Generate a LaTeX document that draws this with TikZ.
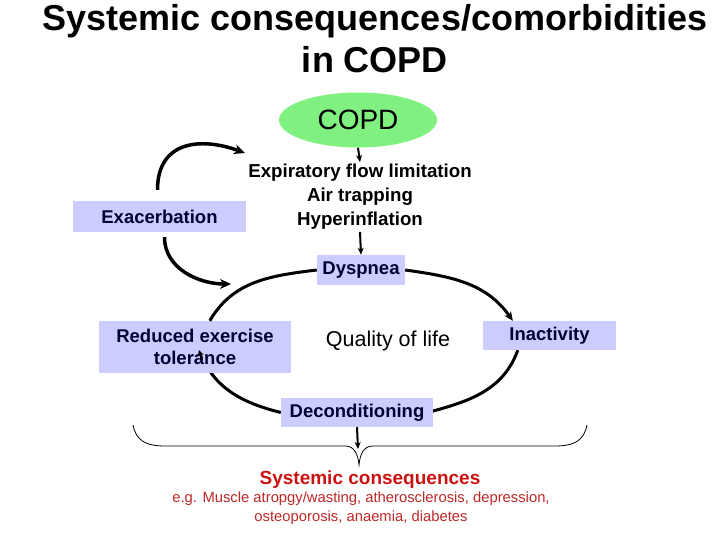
\documentclass[tikz,border=0pt]{standalone}
\usepackage{fontspec}
\setmainfont{Liberation Sans}
\usetikzlibrary{arrows.meta,calc,shapes.geometric}
\pgfdeclarelayer{bg}
\pgfsetlayers{bg,main}
\definecolor{lav}{RGB}{204,204,255}
\definecolor{copdgreen}{RGB}{128,240,128}
\definecolor{navy}{RGB}{0,0,51}
\definecolor{sysred}{RGB}{204,17,17}
\definecolor{smallred}{RGB}{190,40,40}
\begin{document}
\begin{tikzpicture}[x=1pt,y=-1pt,
  box/.style={fill=lav, text=navy, font=\bfseries\fontsize{18.5}{22}\selectfont, inner sep=0pt, align=center},
  cyc/.style={line width=3pt},
  cyctip/.style={line width=3pt,-{Stealth[length=9pt,width=8pt]}},
  smalltip/.style={line width=2pt,-{Stealth[length=6pt,width=6pt]}},
  exarr/.style={line width=3.5pt,-{Stealth[length=11pt,width=10pt]}},
  arr/.style={line width=2pt,-{Stealth[length=7pt,width=6pt]}},
  brace/.style={line width=0.8pt}
  ]
\useasboundingbox (0,0) rectangle (720,540);
% title
\node[font=\bfseries\fontsize{36}{42}\selectfont, align=center] (title) at (375,39) {Systemic consequences/comorbidities\\in COPD};
% COPD
\node[ellipse, fill=copdgreen, minimum width=158pt, minimum height=55pt, inner sep=0pt, font=\fontsize{28}{32}\selectfont] (copd) at (358,120) {COPD};
% mechanisms
\node[align=center, inner sep=2pt, font=\bfseries\fontsize{18.7}{24}\selectfont] (exp) at (360,197) {Expiratory flow limitation\\Air trapping\\Hyperinflation};
% boxes
\node[box, minimum width=88pt, minimum height=30pt] (dys) at (361,270) {Dyspnea};
\node[box, minimum width=173pt, minimum height=31pt] (exac) at (159.5,216.5) {Exacerbation};
\node[box, minimum width=192pt, minimum height=52pt] (red) at (195,347) {Reduced exercise\\tolerance};
\node[box, minimum width=133pt, minimum height=29pt] (inact) at (549.5,335.5) {Inactivity};
\node[box, minimum width=152pt, minimum height=29pt] (deco) at (357,412.5) {Deconditioning};
\node[font=\fontsize{21.5}{24}\selectfont] (qol) at (388,341) {Quality of life};
% coordinates
\coordinate (inTop) at ($(inact.north west)+(30,0)$);
\coordinate (inBot) at ($(inact.south west)+(35,0)$);
\coordinate (redTop) at ($(red.north west)+(111,0)$);
\coordinate (redTip) at (199,350);
\coordinate (redTipBase) at (202,360);
\coordinate (exTopStart) at ($(exac.north)+(-2,-11)$);
\coordinate (exTopEnd) at (245,153);
\coordinate (exBotStart) at ($(exac.south)+(5,5)$);
\coordinate (exBotEnd) at (231,284);
\coordinate (braceTip) at (359,465);
\coordinate (decoEnd) at (358,449);
% connectors
\draw[arr] (copd.south) -- (exp.north);
\draw[arr] (exp.south) -- (dys.north);
\begin{pgfonlayer}{bg}
\draw[cyc] (deco.west) to[out=166,in=-70] (redTip);
\draw[cyc] (inBot) to[out=-110,in=15] ($(deco.east)+(-2,-1)$);
\end{pgfonlayer}
\draw[cyctip] (dys.east) to[out=-8,in=125] (inTop);
\draw[smalltip] (redTipBase) -- (redTip);
\draw[cyc] (redTop) to[out=60,in=187] (dys.west);
\draw[exarr] (exTopStart) to[out=90,in=160,looseness=1.3] (exTopEnd);
\draw[exarr] (exBotStart) to[out=-90,in=180] (exBotEnd);
\draw[arr] (deco.south) -- (decoEnd);
% brace
\draw[brace] (133,425) .. controls (136,440) and (145,446) .. (165,446) -- (345,446)
  .. controls (355,446) and (358,455) .. (braceTip)
  .. controls (360,455) and (363,446) .. (373,446) -- (555,446)
  .. controls (575,446) and (584,440) .. (587,425);
% systemic consequences
\node[text=sysred, font=\bfseries\fontsize{19}{22}\selectfont] (sys) at (370,480) {Systemic consequences};
\node[text=smallred, align=center, font=\fontsize{14.8}{19}\selectfont] (eg) at (361,508) {e.g. Muscle atropgy/wasting, atherosclerosis, depression,\\osteoporosis, anaemia, diabetes};
\end{tikzpicture}
\end{document}
